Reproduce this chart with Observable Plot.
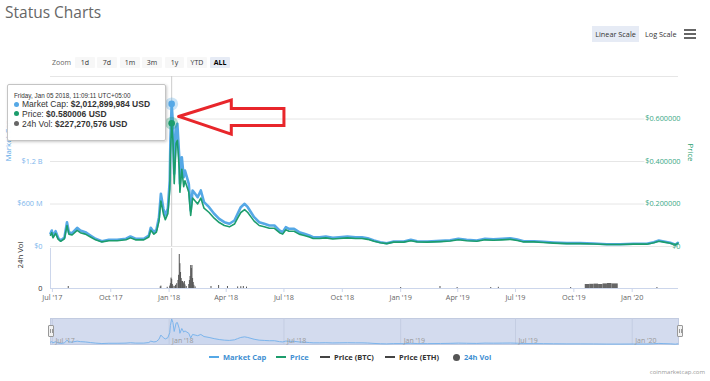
<!DOCTYPE html>
<html><head><meta charset="utf-8">
<script src="https://cdn.jsdelivr.net/npm/d3@7"></script>
<script src="https://cdn.jsdelivr.net/npm/@observablehq/plot@0.6"></script>
<style>
html,body{margin:0;padding:0;background:#fff;}
#wrap{position:relative;width:710px;height:381px;overflow:hidden;font-family:'Open Sans',sans-serif;background:#fff;}
.layer{position:absolute;left:0;}
.layer svg{display:block;}
.abs{position:absolute;white-space:nowrap;}
.btn{position:absolute;top:57px;height:11px;line-height:11px;background:#f7f7f7;font-size:7px;color:#333;text-align:center;border-radius:1px;}
.leg{position:absolute;top:352px;height:10px;line-height:10px;font-size:7.5px;font-weight:bold;white-space:nowrap;}
.sym{display:inline-block;width:10px;height:2px;vertical-align:middle;margin-right:4px;position:relative;top:-1px;}
.handle{position:absolute;top:325px;width:4px;height:10px;background:#f2f2f2;border:1px solid #999;border-radius:1px;}
.handle:before,.handle:after{content:"";position:absolute;top:3px;height:4px;width:0;border-left:1px solid #999;}
.handle:before{left:1px}.handle:after{left:2.5px}
#tip{font-family:'Liberation Sans',Arial,sans-serif;}
.bul{display:inline-block;width:5px;height:5px;border-radius:50%;margin-right:3px;vertical-align:middle;position:relative;top:-1px;}
</style></head>
<body><div id="wrap">
<div class="abs" style="left:5px;top:2px;font-size:15.5px;line-height:21px;color:#666;">Status Charts</div>
<div class="abs" style="left:52px;top:57px;line-height:11px;font-size:7px;color:#666;">Zoom</div>
<div class="btn" style="left:75px;width:20px;">1d</div>
<div class="btn" style="left:97px;width:20px;">7d</div>
<div class="btn" style="left:120px;width:20px;">1m</div>
<div class="btn" style="left:142px;width:20px;">3m</div>
<div class="btn" style="left:165px;width:19px;">1y</div>
<div class="btn" style="left:187px;width:20px;">YTD</div>
<div class="btn" style="left:210px;width:20px;background:#e6ebf5;font-weight:bold;color:#000;">ALL</div>
<div class="abs" style="left:592px;top:26px;width:47px;height:16px;line-height:16px;background:#e6ebf5;font-size:7.3px;color:#333;text-align:center;">Linear Scale</div>
<div class="abs" style="left:645px;top:26px;height:16px;line-height:16px;font-size:7.3px;color:#333;">Log Scale</div>
<div class="abs" style="left:684px;top:29px;width:12px;height:2px;background:#666;"></div>
<div class="abs" style="left:684px;top:33px;width:12px;height:2px;background:#666;"></div>
<div class="abs" style="left:684px;top:37px;width:12px;height:2px;background:#666;"></div>
<div id="mainL" class="layer" style="top:0;z-index:1"></div>
<div id="volL" class="layer" style="top:240px;z-index:2"></div>
<div id="priceL" class="layer" style="top:0;z-index:3"></div>
<div id="navL" class="layer" style="top:310px;z-index:2"></div>
<div class="handle" style="left:48px;z-index:4"></div>
<div class="handle" style="left:677px;z-index:4"></div>
<div id="tip" class="abs" style="left:7px;top:84px;width:157px;height:55px;background:rgba(255,255,255,0.97);border:1px solid #c4c4c4;box-shadow:1px 1px 3px rgba(0,0,0,0.22);border-radius:2px;z-index:6;color:#333;"></div>
<div id="legend"></div>
<div class="abs" style="left:600px;width:105px;top:367px;line-height:10px;font-size:6px;color:#999;text-align:right;">coinmarketcap.com</div>
</div>
<script>
// ---- data (Market Cap in USD millions, Price in USD) ----
const mcDates = ["2017-06-28","2017-06-30","2017-07-02","2017-07-06","2017-07-10","2017-07-14","2017-07-20","2017-07-24","2017-07-27","2017-08-01","2017-08-09","2017-08-14","2017-08-22","2017-08-30","2017-09-07","2017-09-17","2017-09-28","2017-10-11","2017-10-25","2017-11-01","2017-11-09","2017-11-22","2017-11-30","2017-12-03","2017-12-08","2017-12-12","2017-12-16","2017-12-19","2017-12-23","2017-12-26","2017-12-30","2018-01-02","2018-01-03","2018-01-05","2018-01-07","2018-01-09","2018-01-12","2018-01-14","2018-01-17","2018-01-18","2018-01-21","2018-01-24","2018-01-26","2018-01-29","2018-02-01","2018-02-04","2018-02-07","2018-02-11","2018-02-15","2018-02-20","2018-02-25","2018-03-05","2018-03-13","2018-03-21","2018-03-29","2018-04-06","2018-04-14","2018-04-19","2018-04-24","2018-04-30","2018-05-05","2018-05-10","2018-05-15","2018-05-23","2018-05-31","2018-06-08","2018-06-16","2018-06-24","2018-06-29","2018-07-04","2018-07-09","2018-07-17","2018-07-25","2018-08-02","2018-08-10","2018-08-16","2018-08-26","2018-09-05","2018-09-16","2018-09-26","2018-10-09","2018-10-22","2018-11-01","2018-11-10","2018-11-20","2018-11-30","2018-12-10","2018-12-21","2019-01-06","2019-01-17","2019-01-27","2019-02-12","2019-03-05","2019-03-20","2019-04-02","2019-04-15","2019-05-01","2019-05-14","2019-05-27","2019-06-10","2019-06-23","2019-07-04","2019-07-14","2019-07-30","2019-08-14","2019-08-30","2019-09-20","2019-10-11","2019-11-01","2019-11-22","2019-12-13","2020-01-03","2020-01-24","2020-02-04","2020-02-12","2020-02-20","2020-03-01","2020-03-09","2020-03-13"];
const mcValues = [184,226,141,216,123,85,127,343,202,188,264,226,202,155,109,75,95,95,109,141,109,109,155,264,202,236,414,744,532,438,537,932,1497,2013,1733,1027,1685,1733,1261,885,1261,978,1073,978,885,508,791,744,696,791,626,555,462,391,343,321,367,462,555,603,555,484,414,343,321,297,297,226,202,273,250,250,202,179,155,131,131,141,123,131,141,131,131,117,85,61,47,71,71,95,75,71,80,89,109,95,85,109,103,109,117,99,75,75,66,56,47,47,42,32,32,38,38,61,85,71,52,24,52];
const priceValues = [0.053,0.065,0.041,0.062,0.035,0.0245,0.0366,0.0988,0.0582,0.0542,0.0761,0.0651,0.0582,0.0447,0.0314,0.0216,0.0274,0.0274,0.0314,0.0406,0.0314,0.0314,0.0447,0.0761,0.0582,0.068,0.1193,0.2144,0.1533,0.1262,0.1548,0.2686,0.4314,0.5800,0.4994,0.296,0.4856,0.4994,0.3634,0.255,0.3634,0.2818,0.3092,0.2818,0.255,0.1464,0.228,0.2144,0.2006,0.228,0.1804,0.16,0.1331,0.1127,0.0988,0.0925,0.1058,0.1331,0.16,0.1738,0.16,0.1395,0.1193,0.0988,0.0925,0.0856,0.0856,0.0651,0.0582,0.0787,0.072,0.072,0.0582,0.0516,0.0447,0.0378,0.0378,0.0406,0.0354,0.0378,0.0406,0.0378,0.0378,0.0337,0.0245,0.0176,0.0135,0.0205,0.0205,0.0274,0.0216,0.0205,0.0231,0.0256,0.0314,0.0274,0.0245,0.0314,0.0297,0.0314,0.0337,0.0285,0.0216,0.0216,0.019,0.0161,0.0135,0.0135,0.0121,0.0092,0.0092,0.011,0.011,0.0176,0.0245,0.0205,0.015,0.0069,0.015];
// 24h volume, USD millions
const volDates = ["2017-07-26","2017-12-18","2017-12-19","2017-12-29","2018-01-02","2018-01-03","2018-01-04","2018-01-05","2018-01-06","2018-01-07","2018-01-09","2018-01-11","2018-01-13","2018-01-15","2018-01-16","2018-01-17","2018-01-18","2018-01-19","2018-01-20","2018-01-21","2018-01-22","2018-01-23","2018-01-24","2018-01-25","2018-01-26","2018-01-28","2018-02-01","2018-02-02","2018-02-03","2018-02-04","2018-02-05","2018-02-06","2018-02-07","2018-02-08","2018-02-09","2018-02-11","2018-03-08","2018-03-20","2018-04-03","2018-04-19","2018-04-24","2018-04-28","2018-05-03","2019-01-01","2019-03-04","2019-03-31","2019-05-23","2019-06-04","2019-09-26","2020-02-09"];
const volValues = [50,40,60,30,60,120,260,227,100,60,50,80,120,200,330,850,620,400,250,180,175,150,120,175,90,50,100,200,300,575,500,575,250,150,80,40,50,75,50,40,45,50,35,25,50,25,25,30,25,25];
const blockStarts = ["2019-10-19","2019-10-26","2019-11-02","2019-11-09","2019-11-16","2019-11-23","2019-11-30"];
const blockEnds   = ["2019-10-26","2019-11-02","2019-11-09","2019-11-16","2019-11-23","2019-11-30","2019-12-10"];
const blockValues = [100,105,110,100,115,125,115];
// ticks
const tickDates = ["2017-07-01","2017-10-01","2018-01-01","2018-04-01","2018-07-01","2018-10-01","2019-01-01","2019-04-01","2019-07-01","2019-10-01","2020-01-01"];
const tickLabels = ["Jul '17","Oct '17","Jan '18","Apr '18","Jul '18","Oct '18","Jan '19","Apr '19","Jul '19","Oct '19","Jan '20"];
const navTickDates = ["2017-07-01","2018-01-01","2018-07-01","2019-01-01","2019-07-01","2020-01-01"];
const navTickLabels = ["Jul '17","Jan '18","Jul '18","Jan '19","Jul '19","Jan '20"];
const mcGrid = [0,600,1200,1800,2400];
const mcTicks = [0,600,1200];
const mcTickLabels = ["$0","$600 M","$1.2 B"];
const priceTicks = [0,0.2,0.4,0.6];
const priceTickLabels = ["$0","$0.200000","$0.400000","$0.600000"];
// hovered point
const tipDateStr = "2018-01-05";
const tipLabel = "Friday, Jan 05 2018, 11:09:11 UTC+05:00";
const tipMC = 2012899984, tipPrice = 0.580006, tipVol = 227270576;
// annotation arrow (date, price)
const arrowDates = ["2018-01-16","2018-04-09","2018-04-09","2018-07-01","2018-07-01","2018-04-09","2018-04-09","2018-01-16"];
const arrowPrices = [0.612,0.689,0.649,0.649,0.569,0.569,0.529,0.612];
// legend
const legendItems = ["Market Cap","Price","Price (BTC)","Price (ETH)","24h Vol"];

// ---- build ----
const P = s => new Date(s + "T00:00:00Z");
const BLUE = "#55a8e6", GREEN = "#1c9d6c";
const xDomain = [P("2017-06-28"), P("2020-03-14")];
const tipDate = P(tipDateStr);
const mc = mcDates.map((d,i)=>({date:P(d), v:mcValues[i]}));
const pr = mcDates.map((d,i)=>({date:P(d), v:priceValues[i]}));
const vol = volDates.map((d,i)=>({date:P(d), v:volValues[i]}));
const block = blockStarts.map((d,i)=>({a:P(d), b:P(blockEnds[i]), v:blockValues[i]}));
const ticks = tickDates.map(P);
const navTicks = navTickDates.map(P);
const arrow = arrowDates.map((d,i)=>({date:P(d), v:arrowPrices[i]}));
const font = "'Open Sans', sans-serif";
const common = {width:710, marginLeft:50, marginRight:32,
  style:{background:"none", fontFamily:font, overflow:"visible"}};

const mainPlot = Plot.plot({...common, height:300, marginTop:76, marginBottom:54,
  x:{type:"utc", domain:xDomain, axis:null}, y:{domain:[0,2400], axis:null},
  marks:[
    Plot.ruleY(mcGrid, {y:d=>d, stroke:"#e6e6e6"}),
    Plot.ruleX([tipDate], {x:d=>d, stroke:"#cccccc"}),
    Plot.line(mc, {x:"date", y:"v", stroke:BLUE, strokeWidth:2.6}),
    Plot.text(mcTicks, {y:d=>d, text:(d,i)=>mcTickLabels[i], frameAnchor:"left", textAnchor:"end", dx:-8, fill:"#7cb5ec", fontSize:7.3}),
    Plot.text(["Market Cap"], {text:d=>d, frameAnchor:"left", dx:-42, dy:0, rotate:-90, fill:"#5fabe8", fontSize:7.8}),
    Plot.dot([tipDate], {x:d=>d, y:()=>tipMC/1e6, r:6.5, fill:BLUE, fillOpacity:0.3}),
    Plot.dot([tipDate], {x:d=>d, y:()=>tipMC/1e6, r:3.3, fill:BLUE})
  ]});
document.getElementById("mainL").append(mainPlot);

const pricePlot = Plot.plot({...common, height:300, marginTop:76, marginBottom:54,
  x:{type:"utc", domain:xDomain, axis:null}, y:{domain:[0,0.8], axis:null},
  marks:[
    Plot.text(priceTicks, {filter:d=>d>0, y:d=>d, text:(d,i)=>priceTickLabels[i], frameAnchor:"right", textAnchor:"end", dx:2, fill:"#3aa886", stroke:"white", strokeWidth:3, fontSize:7.3}),
    Plot.line(pr, {x:"date", y:"v", stroke:GREEN, strokeWidth:1.6}),
    Plot.text([0], {y:d=>d, text:()=>priceTickLabels[0], frameAnchor:"right", textAnchor:"end", dx:2, fill:"#3aa886", fontSize:7.3}),
    Plot.text(["Price"], {text:d=>d, frameAnchor:"right", dx:12, rotate:90, fill:GREEN, fontSize:7.8}),
    Plot.dot([tipDate], {x:d=>d, y:()=>tipPrice, r:6.5, fill:GREEN, fillOpacity:0.3}),
    Plot.dot([tipDate], {x:d=>d, y:()=>tipPrice, r:3.3, fill:GREEN}),
    Plot.line(arrow, {x:"date", y:"v", stroke:"#e8262b", strokeWidth:3, strokeLinejoin:"miter", strokeMiterlimit:10})
  ]});
document.getElementById("priceL").append(pricePlot);

const volPlot = Plot.plot({...common, height:70, marginTop:8, marginBottom:22,
  x:{type:"utc", domain:xDomain}, y:{domain:[0,1000], axis:null},
  marks:[
    Plot.ruleX([tipDate], {x:d=>d, stroke:"#cccccc"}),
    Plot.rectY(block, {x1:"a", x2:"b", y:"v", fill:"#666"}),
    Plot.ruleX(vol, {x:"date", y1:0, y2:"v", stroke:"#555", strokeWidth:1}),
    Plot.ruleY([0], {y:d=>d, stroke:"#ccd6eb"}),
    Plot.ruleX([xDomain[0]], {x:d=>d, stroke:"#ccd6eb"}),
    Plot.axisX(ticks, {tickFormat:d=>tickLabels[ticks.findIndex(t=>+t===+d)], tickSize:4, tickPadding:2, stroke:"#ccd6eb", fill:"#666", fontSize:7.3, label:null}),
    Plot.text([0], {y:d=>d, text:()=>"0", frameAnchor:"left", textAnchor:"end", dx:-8, fill:"#333", fontSize:7.3}),
    Plot.text(["24h Vol"], {text:d=>d, frameAnchor:"left", dx:-30, rotate:-90, fill:"#333", fontSize:7.8})
  ]});
document.getElementById("volL").append(volPlot);

const navPlot = Plot.plot({...common, height:40, marginTop:8, marginBottom:6,
  x:{type:"utc", domain:xDomain, axis:null}, y:{domain:[0,2050], axis:null},
  marks:[
    Plot.frame({fill:"#d3dbee", stroke:"#c2cbe0"}),
    Plot.ruleX(navTicks, {x:d=>d, stroke:"#c4cde2"}),
    Plot.areaY(mc, {x:"date", y:"v", fill:"#7cb5ec", fillOpacity:0.08}),
    Plot.line(mc, {x:"date", y:"v", stroke:"#7cb5ec", strokeWidth:1}),
    Plot.text(navTicks, {x:d=>d, text:(d,i)=>navTickLabels[i], frameAnchor:"bottom", textAnchor:"start", lineAnchor:"bottom", dx:3, dy:-2, fill:"#999", fontSize:7})
  ]});
document.getElementById("navL").append(navPlot);

// tooltip
const fmtInt = d3.format(",");
const tipEl = document.getElementById("tip");
tipEl.innerHTML =
  `<div class="abs" style="left:6px;top:7px;line-height:7px;height:7px;font-size:6.3px;color:#333;">${tipLabel}</div>` +
  [["Market Cap", "$" + fmtInt(tipMC) + " USD", BLUE, 15.4],
   ["Price", "$" + tipPrice.toFixed(6) + " USD", GREEN, 25.2],
   ["24h Vol", "$" + fmtInt(tipVol) + " USD", "#666", 35]].map(([k,v,c,t]) =>
   `<div class="abs" style="left:6px;top:${t}px;line-height:9.4px;height:9.4px;font-size:8.5px;"><span class="bul" style="background:${c}"></span>${k}: <b>${v}</b></div>`).join("");

// legend
const legColors = [BLUE, GREEN, "#444", "#444", "#555"];
const legText = ["#3f8fd2", "#3f8fd2", "#333", "#333", "#3f8fd2"];
const legLeft = [209, 276, 320, 385, 453];
document.getElementById("legend").innerHTML = legendItems.map((name,i) => {
  const sym = i === 4
    ? `<span style="display:inline-block;width:7px;height:7px;border-radius:50%;background:${legColors[i]};vertical-align:middle;margin-right:4px;position:relative;top:-1px;"></span>`
    : `<span class="sym" style="background:${legColors[i]}"></span>`;
  return `<div class="leg" style="left:${legLeft[i]}px;color:${legText[i]}">${sym}${name}</div>`;
}).join("");
</script>
</body></html>
